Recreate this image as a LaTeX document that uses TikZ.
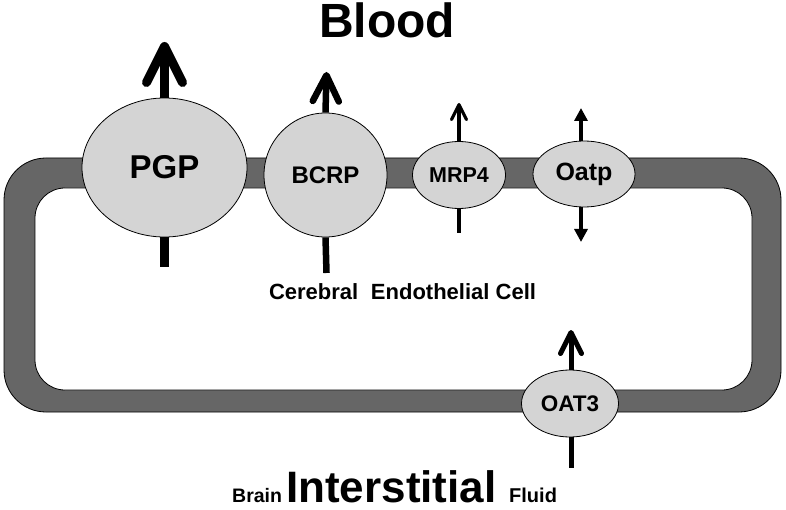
\documentclass[tikz,border=0pt]{standalone}
\usepackage{fontspec}
\setmainfont{Liberation Sans}
\usetikzlibrary{arrows.meta,shapes.geometric}
\definecolor{bandgray}{HTML}{666666}
\definecolor{cellgray}{HTML}{D4D4D4}
\begin{document}
\begin{tikzpicture}[x=1pt,y=-1pt,
  transporter/.style={ellipse, draw=black, line width=0.8pt, fill=cellgray, inner sep=0pt, font=\bfseries},
  stem/.style={draw=black, line cap=butt},
  barb/.style={-{Straight Barb[round, length=#1, width=#1]}},
  lbl/.style={inner sep=0pt, font=\bfseries}]
\useasboundingbox (0,0) rectangle (786,510);
% membrane band
\path[fill=bandgray, draw=black, line width=0.8pt, rounded corners=42pt] (4,158) rectangle (781,412);
\path[fill=white, draw=black, line width=0.8pt, rounded corners=30pt] (35,188) rectangle (752,390);
% transporters
\node[transporter, minimum width=165pt, minimum height=139pt, font=\bfseries\fontsize{33}{33}\selectfont] (pgp) at (164.5,167.5) {PGP};
\node[transporter, minimum width=123pt, minimum height=124pt, font=\bfseries\fontsize{24}{24}\selectfont] (bcrp) at (325.5,175) {BCRP};
\node[transporter, minimum width=93pt, minimum height=67pt, font=\bfseries\fontsize{21.5}{21.5}\selectfont] (mrp) at (459,175) {MRP4};
\node[transporter, minimum width=102pt, minimum height=66pt, font=\bfseries\fontsize{25}{25}\selectfont] (oatp) at (584,174) {Oatp};
\node[transporter, minimum width=97pt, minimum height=67pt, font=\bfseries\fontsize{22.5}{22.5}\selectfont] (oat3) at (570,403.5) {OAT3};
% free ends
\coordinate (pgpT) at (164.5,42);
\coordinate (pgpB) at (164.5,267);
\coordinate (bcrpT) at (326.5,72);
\coordinate (bcrpB) at (326.5,273);
\coordinate (mrpT) at (459,103);
\coordinate (mrpB) at (459,233);
\coordinate (oatpT) at (581,108);
\coordinate (oatpB) at (581,242);
\coordinate (oat3T) at (571,330);
\coordinate (oat3B) at (571,468);
% arrows
\draw[stem, line width=9pt, barb=36pt] (pgp.north) -- (pgpT);
\draw[stem, line width=9pt] (pgp.south) -- (pgpB);
\draw[stem, line width=6.5pt, barb=26pt] (bcrp.north) -- (bcrpT);
\draw[stem, line width=6.5pt] (bcrp.south) -- (bcrpB);
\draw[stem, line width=3.2pt, barb=15pt] (mrp.north -| mrpT) -- (mrpT);
\draw[stem, line width=3.2pt] (mrp.south -| mrpB) -- (mrpB);
\draw[stem, line width=3.2pt, -{Triangle[length=13pt, width=13pt]}] (oatp.north -| oatpT) -- (oatpT);
\draw[stem, line width=3.2pt, -{Triangle[length=13pt, width=13pt]}] (oatp.south -| oatpB) -- (oatpB);
\draw[stem, line width=5pt, barb=21pt] (oat3.north -| oat3T) -- (oat3T);
\draw[stem, line width=5pt] (oat3.south -| oat3B) -- (oat3B);
% labels
\node[lbl, anchor=base, font=\bfseries\fontsize{48}{48}\selectfont] (blood) at (387,38) {Blood};
\node[lbl, anchor=base, font=\bfseries\fontsize{22}{22}\selectfont] (cell) at (402.5,299) {Cerebral\hspace{0.3em} Endothelial Cell};
\node[lbl, text depth=0pt, anchor=base west, font=\bfseries\fontsize{19.5}{19.5}\selectfont] (brain) at (232,502) {Brain};
\node[lbl, text depth=0pt, anchor=base west, font=\bfseries\fontsize{44}{44}\selectfont] (inter) at (286,502) {Interstitial};
\node[lbl, text depth=0pt, anchor=base west, font=\bfseries\fontsize{20}{20}\selectfont] (fluid) at (509,502) {Fluid};
\end{tikzpicture}
\end{document}
